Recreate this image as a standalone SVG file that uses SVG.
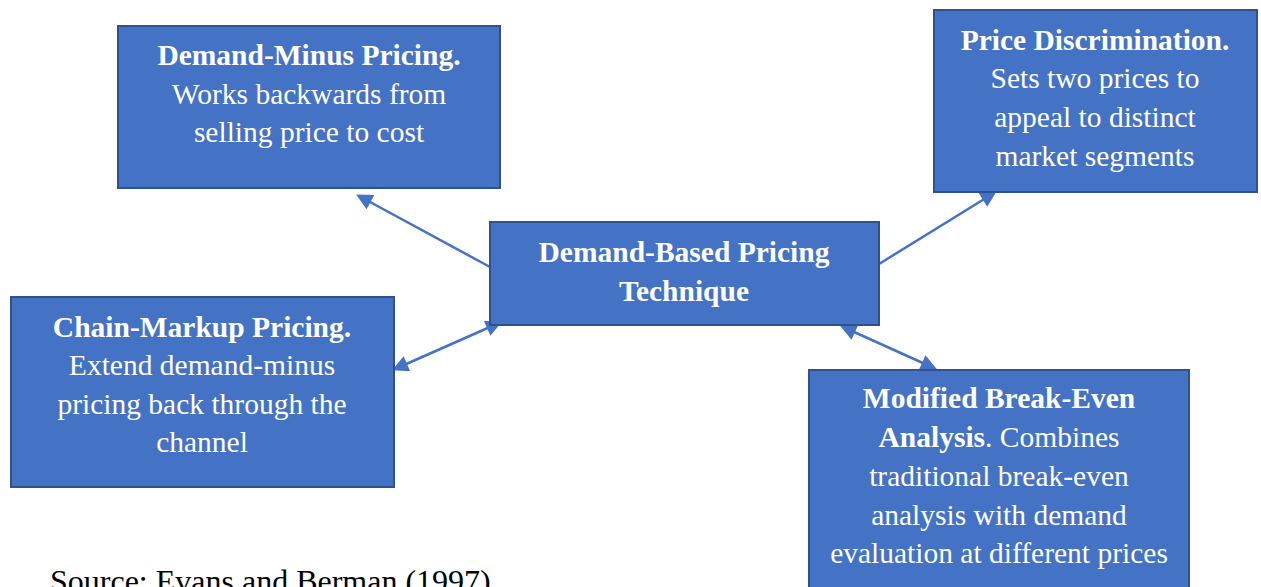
<svg xmlns="http://www.w3.org/2000/svg" width="1261" height="587" viewBox="0 0 1261 587">
<defs>
<style>
.box{fill:#4472C4;stroke:#2F528F;stroke-width:2}
.t{font-family:"Liberation Serif","Times New Roman",serif;font-size:29.5px;fill:#ffffff;text-anchor:middle}
.b{font-weight:bold}
.c{stroke:#4472C4;stroke-width:2.5;fill:none}
.src{font-family:"Liberation Serif","Times New Roman",serif;font-size:32px;fill:#000000}
</style>
<marker id="ah" viewBox="0 0 10 10" refX="8" refY="5" markerWidth="7" markerHeight="6.5" orient="auto-start-reverse" markerUnits="strokeWidth">
<path d="M0,0 L10,5 L0,10 z" fill="#4472C4"/>
</marker>
</defs>
<rect width="1261" height="587" fill="#ffffff"/>
<g id="connectors">
<line class="c" x1="490" y1="267" x2="359" y2="196" marker-end="url(#ah)"/>
<line class="c" x1="395" y1="369" x2="499" y2="323" marker-start="url(#ah)" marker-end="url(#ah)"/>
<line class="c" x1="879" y1="264" x2="994" y2="193" marker-end="url(#ah)"/>
<line class="c" x1="843" y1="327" x2="934" y2="368" marker-start="url(#ah)" marker-end="url(#ah)"/>
</g>
<g id="demand-minus">
<rect class="box" x="118" y="26" width="382" height="162"/>
<text class="t" x="309" y="65"><tspan class="b">Demand-Minus Pricing.</tspan><tspan x="309" dy="39">Works backwards from</tspan><tspan x="309" dy="38">selling price to cost</tspan></text>
</g>
<g id="price-discrimination">
<rect class="box" x="934" y="10" width="323" height="182"/>
<text class="t" x="1095" y="50"><tspan class="b">Price Discrimination.</tspan><tspan x="1095" dy="38">Sets two prices to</tspan><tspan x="1095" dy="39">appeal to distinct</tspan><tspan x="1095" dy="39">market segments</tspan></text>
</g>
<g id="center">
<rect class="box" x="490" y="222" width="389" height="103"/>
<text class="t b" x="684" y="262"><tspan>Demand-Based Pricing</tspan><tspan x="684" dy="39">Technique</tspan></text>
</g>
<g id="chain-markup">
<rect class="box" x="11" y="297" width="383" height="190"/>
<text class="t" x="202" y="337"><tspan class="b">Chain-Markup Pricing.</tspan><tspan x="202" dy="38">Extend demand-minus</tspan><tspan x="202" dy="39">pricing back through the</tspan><tspan x="202" dy="38">channel</tspan></text>
</g>
<g id="modified-break-even">
<rect class="box" x="809" y="370" width="380" height="230"/>
<text class="t" x="999" y="408"><tspan class="b">Modified Break-Even</tspan><tspan x="999" dy="39"><tspan class="b">Analysis</tspan>. Combines</tspan><tspan x="999" dy="39">traditional break-even</tspan><tspan x="999" dy="39">analysis with demand</tspan><tspan x="999" dy="38">evaluation at different prices</tspan></text>
</g>
<text class="src" x="50" y="592">Source: Evans and Berman (1997)</text>
</svg>
